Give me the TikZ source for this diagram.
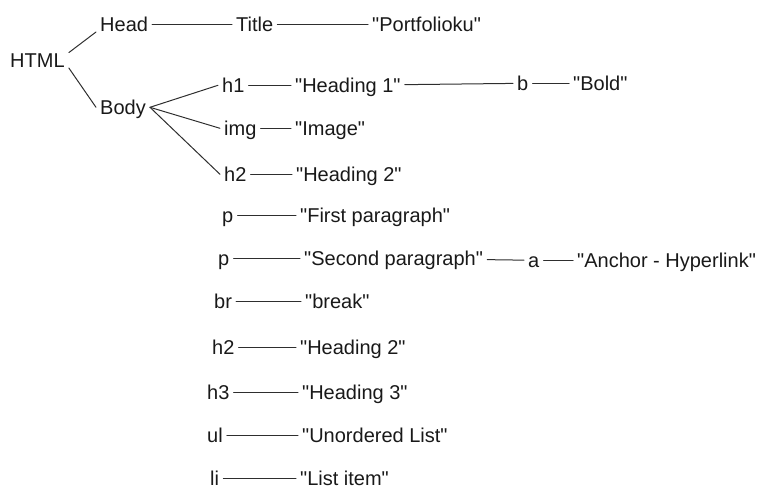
\documentclass[tikz,border=0pt]{standalone}
\usepackage{fontspec}
\setmainfont{Liberation Sans}[Ligatures=TeXOff]
\begin{document}
\begin{tikzpicture}[x=1pt,y=-1pt,
  lbl/.style={anchor=south west,inner xsep=4pt,inner ysep=0pt,text height=15pt,text depth=0pt,font=\fontsize{20}{24}\selectfont,text=black!90},
  link/.style={draw=black!82,line width=1pt,line cap=round}]
\useasboundingbox (0,0) rectangle (768,503);
% nodes (positions = left edge, baseline)
\node[lbl] (html) at (6,68) {HTML};
\node[lbl] (head) at (96,32) {Head};
\node[lbl] (body) at (96,115) {Body};
\node[lbl] (title) at (232,32) {Title};
\node[lbl] (port) at (368,32) {"Portfolioku"};
\node[lbl] (h1) at (218,93) {h1};
\node[lbl] (hd1) at (291,93) {"Heading 1"};
\node[lbl] (b) at (513,91) {b};
\node[lbl] (bold) at (569,91) {"Bold"};
\node[lbl] (img) at (220,136) {img};
\node[lbl] (image) at (291,136) {"Image"};
\node[lbl] (h2a) at (220,182) {h2};
\node[lbl] (hd2a) at (292,182) {"Heading 2"};
\node[lbl] (p1) at (218,223) {p};
\node[lbl] (first) at (296,223) {"First paragraph"};
\node[lbl] (p2) at (214,266) {p};
\node[lbl] (second) at (300,266) {"Second paragraph"};
\node[lbl] (a) at (524,268) {a};
\node[lbl] (anchor) at (573,268) {"Anchor - Hyperlink"};
\node[lbl] (br) at (210,309) {br};
\node[lbl] (brk) at (301,309) {"break"};
\node[lbl] (h2b) at (208,355) {h2};
\node[lbl] (hd2b) at (296,355) {"Heading 2"};
\node[lbl] (h3) at (203,400) {h3};
\node[lbl] (hd3) at (298,400) {"Heading 3"};
\node[lbl] (ul) at (203,443) {ul};
\node[lbl] (ulist) at (298,443) {"Unordered List"};
\node[lbl] (li) at (206,486) {li};
\node[lbl] (litem) at (296,486) {"List item"};
% connectors
\draw[link] (html.north east) -- (head.south west);
\draw[link] (html.south east) -- (body.west);
\draw[link] (head) -- (title);
\draw[link] (title) -- (port);
\draw[link] (body.east) -- (h1.west);
\draw[link] (body.east) -- (img.west);
\draw[link] (body.east) -- (h2a.west);
\draw[link] (h1) -- (hd1);
\draw[link] (hd1) -- (b);
\draw[link] (b) -- (bold);
\draw[link] (img) -- (image);
\draw[link] (h2a) -- (hd2a);
\draw[link] (p1) -- (first);
\draw[link] (p2) -- (second);
\draw[link] (second) -- (a);
\draw[link] (a) -- (anchor);
\draw[link] (br) -- (brk);
\draw[link] (h2b.east) -- (hd2b.west);
\draw[link] (h3) -- (hd3);
\draw[link] (ul) -- (ulist);
\draw[link] (li) -- (litem);
\end{tikzpicture}
\end{document}
